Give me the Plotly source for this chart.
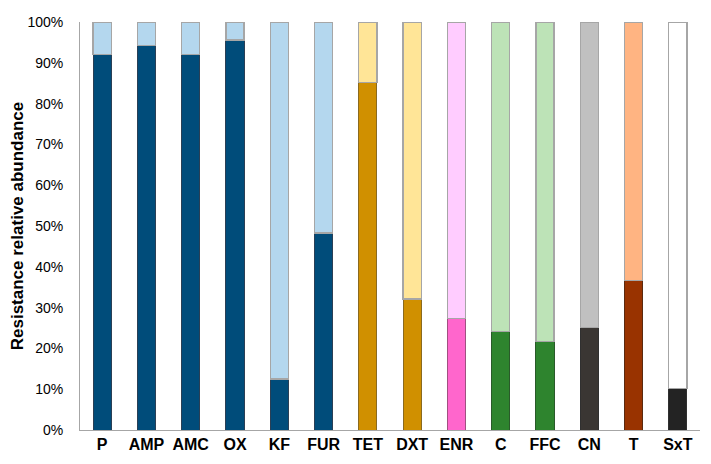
import plotly.graph_objects as go

categories = ["P", "AMP", "AMC", "OX", "KF", "FUR", "TET", "DXT", "ENR", "C", "FFC", "CN", "T", "SxT"]
resistant = [92.1, 94.3, 92.1, 95.6, 12.5, 48.3, 85.2, 32.1, 27.4, 24.1, 21.7, 25.1, 36.6, 10.2]
remainder = [round(100 - v, 1) for v in resistant]

dark_colors = ["#004C7A"] * 6 + ["#D09000"] * 2 + ["#FF66CC"] + ["#2E842E"] * 2 + ["#3A3633", "#993300", "#232323"]
light_colors = ["#B4D7EE"] * 6 + ["#FFE597"] * 2 + ["#FFCCFF"] + ["#BDE3B7"] * 2 + ["#C0C0C0", "#FFB482", "#FFFFFF"]
dark_lines = ["#2a3f55"] * 6 + ["#8a6a20"] * 2 + ["#a05080"] + ["#2a5a2a"] * 2 + ["#303030", "#5a2a10", "#303030"]

fig = go.Figure()
fig.add_bar(x=categories, y=resistant, marker=dict(color=dark_colors, line=dict(color=dark_lines, width=1)),
            showlegend=False, hoverinfo="skip")
fig.add_bar(x=categories, y=remainder, marker=dict(color=light_colors, line=dict(color="#A6A6A6", width=1.2)),
            showlegend=False, hoverinfo="skip")

fig.update_layout(
    barmode="stack",
    bargap=0.59,
    width=711, height=464,
    margin=dict(l=72, r=19, t=14, b=42),
    paper_bgcolor="white", plot_bgcolor="white",
    font=dict(family="Liberation Sans, Arial, sans-serif", color="#000000"),
)
fig.update_yaxes(range=[0, 100], tickvals=list(range(0, 101, 10)),
                 ticktext=[f"{v}%" for v in range(0, 101, 10)],
                 showgrid=False, showline=True, linecolor="#A6A6A6", linewidth=1,
                 ticks="", tickfont=dict(size=14, color="#000"), ticklabelstandoff=13,
                 automargin=False,
                 title=dict(text="<b>Resistance relative abundance</b>", font=dict(size=17), standoff=3))
fig.update_xaxes(showgrid=False, showline=True, linecolor="#A6A6A6", linewidth=1, ticks="",
                 tickfont=dict(size=16, color="#000"), automargin=False,
                 tickvals=categories, ticktext=[f"<b>{c}</b>" for c in categories])

fig.write_html("out.html")
